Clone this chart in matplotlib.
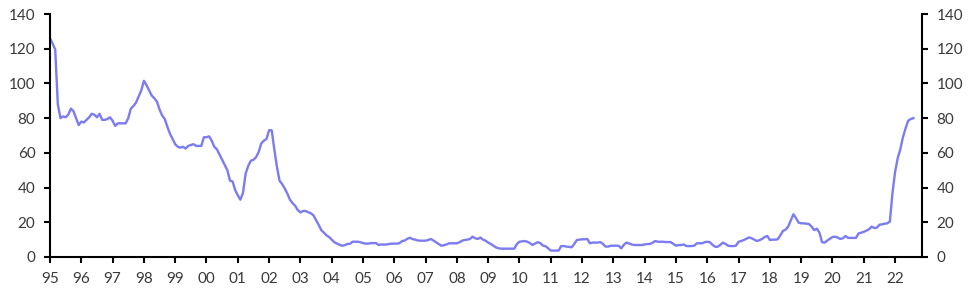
import numpy as np
import pandas as pd
import matplotlib
matplotlib.use("Agg")
import matplotlib.pyplot as plt

# ==== DATA (monthly, Jan 1995 - Aug 2022) ====
start = "1995-01"
values = [
    # 1995
    126, 123, 119.5, 88, 80, 81, 80.5, 82, 85.5, 84, 80, 76,
    # 1996
    78, 77.5, 79, 80.5, 82.5, 82, 80.5, 82.5, 79, 79, 79.5, 80.5,
    # 1997
    78.5, 75.5, 77, 77, 77, 77, 80, 85.5, 87, 89, 92.5, 96,
    # 1998
    101.5, 99, 96, 93, 91.5, 89.5, 85, 81.5, 79.5, 75, 71, 68,
    # 1999
    65, 63.5, 63, 63.5, 62.5, 64, 64.5, 65, 64, 64, 64, 69,
    # 2000
    69, 69.5, 67, 63.5, 62, 59, 56, 53, 50, 44, 43.5, 38.5,
    # 2001
    35.5, 33, 37, 48, 52.5, 55.5, 56, 57.5, 60.5, 65.5, 67, 68,
    # 2002
    73, 73, 62, 52, 44, 42, 39.5, 36.5, 33, 31, 29.5, 27,
    # 2003
    25.7, 26.5, 26.5, 25.8, 25.2, 24, 21.3, 18.5, 15.5, 14, 12.5, 11.5,
    # 2004
    10, 8.5, 7.8, 7, 6.5, 6.8, 7.5, 7.6, 8.8, 8.8, 8.8, 8.5,
    # 2005
    8, 7.7, 7.7, 8, 8, 8, 6.9, 7.2, 7.2, 7.2, 7.5, 7.7,
    # 2006
    7.7, 7.7, 8, 9.2, 9.5, 10.5, 11.1, 10.3, 10, 9.5, 9.4, 9.4,
    # 2007
    9.4, 9.8, 10.4, 9.5, 8.5, 7.5, 6.5, 6.8, 7.2, 7.9, 7.9, 7.9,
    # 2008
    7.9, 8.5, 9.4, 9.8, 10, 10.4, 11.7, 10.8, 10.4, 11.2, 10, 9.4,
    # 2009
    8.3, 7.5, 6.5, 5.5, 5, 4.8, 4.8, 4.8, 4.8, 4.8, 4.8, 7.5,
    # 2010
    8.8, 9, 9.2, 8.8, 8, 6.9, 7.8, 8.5, 8, 6.5, 6.2, 5,
    # 2011
    3.7, 3.7, 3.7, 3.7, 6.3, 6.3, 6, 5.8, 5.6, 7.5, 9.8, 10,
    # 2012
    10.2, 10.2, 10.4, 7.9, 8.3, 8.3, 8.3, 8.6, 7.5, 6, 6, 6.5,
    # 2013
    6.5, 6.5, 6.5, 5, 7, 8.3, 7.8, 7.2, 6.9, 6.9, 6.9, 6.9,
    # 2014
    7.2, 7.5, 7.5, 8.2, 9.2, 8.8, 8.8, 8.8, 8.6, 8.6, 8.6, 7.5,
    # 2015
    6.5, 6.9, 6.9, 7.2, 6.3, 6.3, 6.3, 6.5, 7.9, 7.9, 7.9, 8.5,
    # 2016
    8.8, 8.5, 7, 5.9, 5.9, 7, 8.3, 7.5, 6.5, 6.3, 6.3, 6.5,
    # 2017
    8.8, 9.2, 9.8, 10.5, 11.3, 10.8, 10, 9.2, 9.7, 10.4, 11.5, 12.1,
    # 2018
    9.8, 10, 10, 10.2, 12.5, 15, 15.8, 17.5, 21, 24.6, 22.5, 19.8,
    # 2019
    19.4, 19.4, 19.2, 19, 17.5, 15.5, 16.3, 14, 8.5, 8.3, 9.5, 10.5,
    # 2020
    11.5, 11.7, 11.2, 10.4, 10.8, 12.1, 11, 11, 11, 11, 13.6, 14,
    # 2021
    14.5, 15.2, 16, 17.5, 16.7, 16.9, 18.6, 18.8, 19.2, 19.4, 20.4, 37,
    # 2022
    49, 57, 62, 69, 74, 78.5, 79.5, 80,
]
years = list(range(1995, 2023))
year_labels = [f"{y % 100:02d}" for y in years]
yticks = [0, 20, 40, 60, 80, 100, 120, 140]

dates = pd.period_range(start, periods=len(values), freq="M")
t = dates.year + (dates.month - 1) / 12.0

LINE_COLOR = "#7b7bf2"
TEXT_COLOR = "#3a3a3a"

plt.rcParams["font.family"] = ["Lato", "DejaVu Sans"]

fig = plt.figure(figsize=(9.68, 2.96), dpi=100)
ax = fig.add_axes([50 / 968, 1 - 257 / 296, (921.7 - 50) / 968, (257 - 14) / 296])
ax.plot(t, values, color=LINE_COLOR, lw=1.7)

ax.set_xlim(1995, 2022.85)
ax.set_ylim(0, 140)
ax.set_xticks(years)
ax.set_xticklabels(year_labels)
ax.set_yticks(yticks)

ax2 = ax.twinx()
ax2.set_ylim(0, 140)
ax2.set_yticks(yticks)

for a in (ax, ax2):
    a.spines["top"].set_visible(False)
    for s in a.spines.values():
        s.set_linewidth(1.5)
        s.set_color("black")
    a.tick_params(length=4.5, width=1.5, labelsize=11, labelcolor=TEXT_COLOR, pad=6)
ax.spines["right"].set_visible(False)
ax2.spines["left"].set_visible(False)
ax2.spines["bottom"].set_visible(False)

fig.savefig("out.png", dpi=100)
